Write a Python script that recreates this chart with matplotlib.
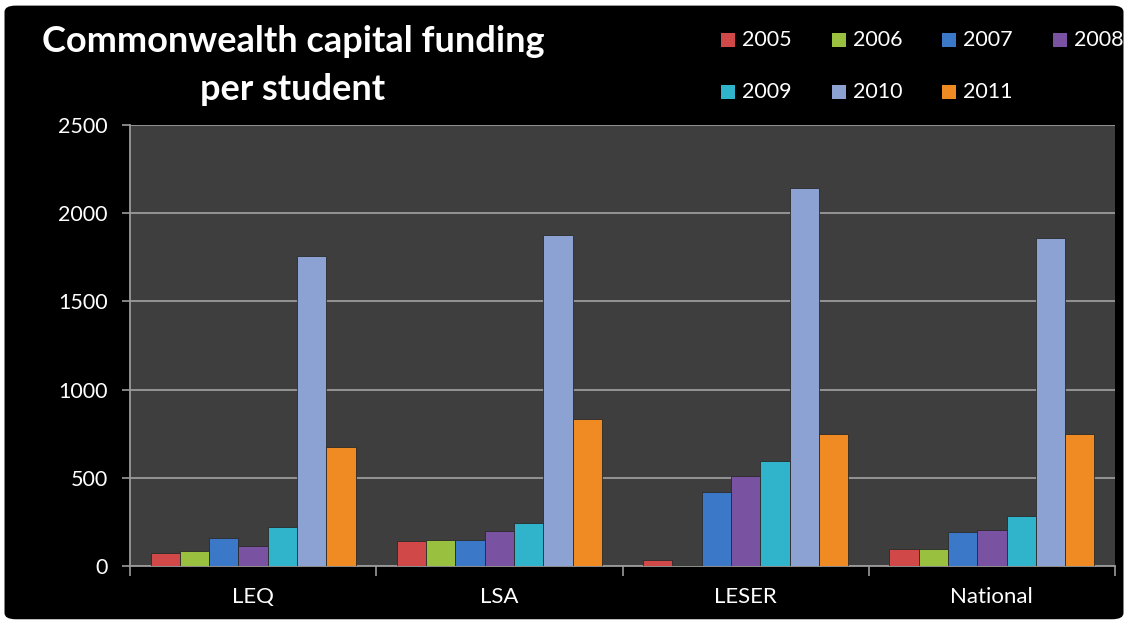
import matplotlib
matplotlib.use("Agg")
import matplotlib.pyplot as plt
import numpy as np
from matplotlib.patches import FancyBboxPatch, Rectangle

categories = ["LEQ", "LSA", "LESER", "National"]
years = ["2005", "2006", "2007", "2008", "2009", "2010", "2011"]
v2005 = [72, 142, 35, 95]
v2006 = [85, 146, 5, 95]
v2007 = [160, 146, 418, 191]
v2008 = [113, 198, 510, 204]
v2009 = [221, 246, 595, 283]
v2010 = [1760, 1876, 2143, 1862]
v2011 = [673, 835, 746, 748]
series = [v2005, v2006, v2007, v2008, v2009, v2010, v2011]
colors = ["#d04848", "#9ac040", "#3c78c8", "#7a52a2", "#30b4cc", "#8ca2d2", "#f08a22"]
yticks = [0, 500, 1000, 1500, 2000, 2500]

plt.rcParams['font.family'] = ['Lato', 'DejaVu Sans']

W, H = 1128, 623
fig = plt.figure(figsize=(W / 100, H / 100), dpi=100, facecolor="white")
bg = FancyBboxPatch((0.004, 0.006), 0.992, 0.985, boxstyle="round,pad=0,rounding_size=0.01",
                    transform=fig.transFigure, facecolor="black", edgecolor="none", zorder=-10)
fig.patches.append(bg)

ax = fig.add_axes([130 / W, 1 - 566 / H, 985 / W, 441 / H])
ax.set_facecolor("#3e3e3e")

n = len(series)
bw = 0.119
x = np.arange(len(categories))
for i, (vals, c) in enumerate(zip(series, colors)):
    offs = (i - (n - 1) / 2) * bw
    ax.bar(x + offs, vals, width=bw, color=c, edgecolor="#2a2a2a", linewidth=0.6, zorder=3)

ax.set_xlim(-0.5, len(categories) - 0.5)
ax.set_ylim(0, 2500)
ax.set_yticks(yticks)
ax.set_yticklabels([str(t) for t in yticks], color="white", fontsize=15.5)
ax.yaxis.grid(True, color="#9a9a9a", linewidth=1.3, zorder=0)
ax.set_axisbelow(True)
ax.set_xticks(x)
ax.set_xticklabels(categories, color="white", fontsize=16)
ax.tick_params(axis="x", length=0, pad=15)
ax.set_xticks(np.arange(-0.5, len(categories)), minor=True)
ax.tick_params(axis="x", which="minor", length=7, color="#9a9a9a", width=1.2)
ax.tick_params(axis="y", length=6, color="#9a9a9a", width=1.2, pad=10)
for s in ["top", "right"]:
    ax.spines[s].set_visible(False)
for s in ["left", "bottom"]:
    ax.spines[s].set_color("#9a9a9a")
    ax.spines[s].set_linewidth(1.3)

fig.text(293 / W, 1 - 42 / H, "Commonwealth capital funding", color="white", fontsize=26,
         fontweight="bold", ha="center", va="center")
fig.text(293 / W, 1 - 89 / H, "per student", color="white", fontsize=26,
         fontweight="bold", ha="center", va="center")

# legend (manual layout: 4 columns, 2 rows)
col_x = [721, 832, 942, 1053]
row_y = [40, 92]
sq = 14
for i, (lab, c) in enumerate(zip(years, colors)):
    r, k = divmod(i, 4)
    xs, yc = col_x[k], row_y[r]
    fig.patches.append(Rectangle((xs / W, 1 - (yc + sq / 2) / H), sq / W, sq / H,
                                 transform=fig.transFigure, facecolor=c, edgecolor="none"))
    fig.text((xs + sq + 7) / W, 1 - yc / H, lab, color="white", fontsize=15.5,
             ha="left", va="center")

fig.savefig("out.png", dpi=100, facecolor="white")
